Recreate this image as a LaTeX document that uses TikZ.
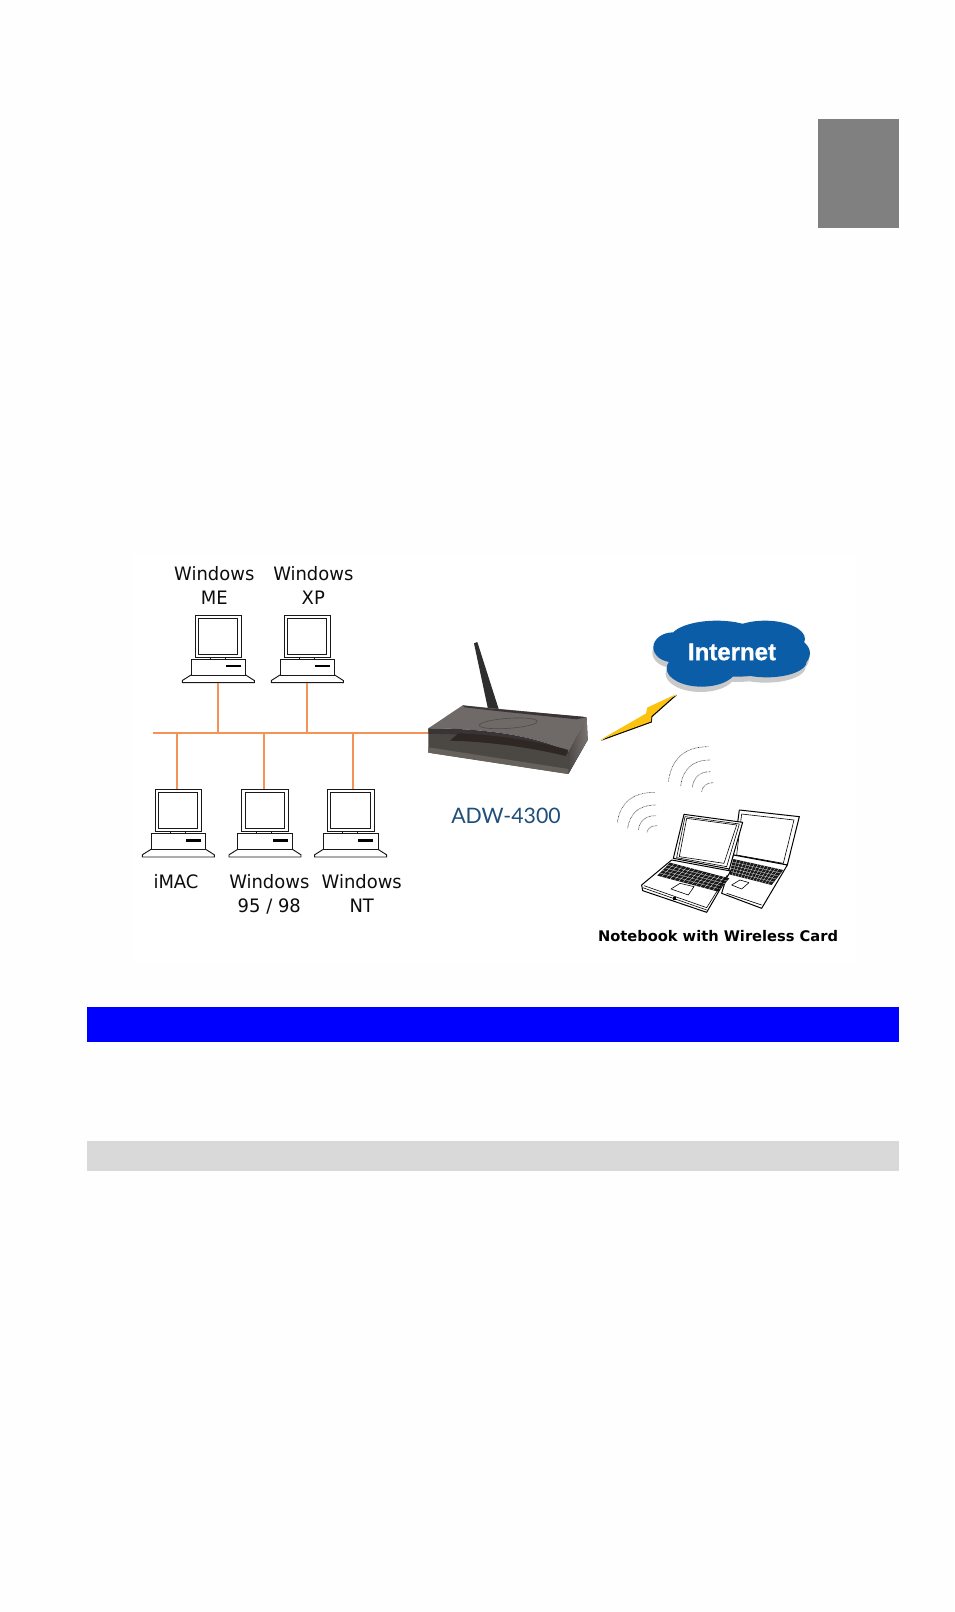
\documentclass[tikz,border=0pt]{standalone}
\usepackage{fontspec}
\setmainfont{DejaVu Sans}[FakeStretch=0.97]
\newfontfamily\boldlabel{DejaVu Sans Bold}
\newfontfamily\cloudfont{Liberation Sans Bold}[FakeBold=1.2]
\newfontfamily\modelfont{Lato}
\usetikzlibrary{calc}
\definecolor{pagebg}{HTML}{FEFEFE}
\definecolor{wire}{HTML}{F39356}
\definecolor{cloudblue}{HTML}{0A5DA6}
\definecolor{cloudshade}{HTML}{C9C9C9}
\definecolor{bolt}{HTML}{FBC20F}
\definecolor{modelblue}{HTML}{1E4E79}
\definecolor{rtop}{HTML}{6F6A67}
\definecolor{rfront}{HTML}{4B4843}
\definecolor{rband}{HTML}{66625B}
\definecolor{rdark}{HTML}{3A3436}
\definecolor{rgrill}{HTML}{2E2724}
\definecolor{rsideA}{HTML}{4D4745}
\definecolor{rsideB}{HTML}{7B7572}
\tikzset{
  compmon/.style={draw=black!90,line width=1pt,inner sep=0pt,outer sep=0pt,minimum width=46.7pt,minimum height=42pt,anchor=north west},
  compline/.style={draw=black!90,line width=0.95pt},
  wire/.style={draw=wire,line width=1.8pt},
  oslabel/.style={font=\fontsize{18.5}{24}\selectfont,align=center,text=black!95,inner sep=0pt},
  ghost/.style={inner sep=0pt,outer sep=0pt,minimum width=158pt,minimum height=40pt},
  wave/.style={draw=black!75,line width=0.6pt,dash pattern=on 0.7pt off 0.7pt},
  lap/.style={draw=black,line width=1pt,fill=white,line join=round},
  lapthin/.style={draw=black,line width=0.6pt,line join=round},
}
\newcommand{\computer}[3]{%
  \begin{scope}[shift={(#2,#3)}]
    \node[compmon] (#1) at (0,0) {};
    \draw[compline] (3.3,3) rectangle (42.7,39);
    \draw[compline] (15,42) -- (15,44) (30,42) -- (30,44);
    \draw[compline] (-4,44) rectangle (50.7,60);
    \fill[black] (31,50) rectangle (46,52.2);
    \draw[compline] (-4,60) -- (-12.7,65.5) -- (-12.7,67.7) -- (59.3,67.7) -- (59.3,65.5) -- (50.7,60);
    \coordinate (#1-foot) at (23.3,67.7);
  \end{scope}}
\newcommand{\wifi}[4]{%
  \draw[wave] (#1,#2) .. controls ({#1+0.08*(#3-#1)},{#2-0.65*(#2-#4)}) and ({#1+0.4*(#3-#1)},#4) .. (#3,#4);}
\newcommand{\keyboard}[4]{%
  \fill[black!90] (#1) -- (#2) -- (#3) -- (#4) -- cycle;
  \foreach \t in {0.2,0.4,0.6,0.8}
    \draw[white,line width=0.25pt] ($(#1)!\t!(#4)$) -- ($(#2)!\t!(#3)$);
  \foreach \t in {0.07,0.14,...,0.95}
    \draw[white,line width=0.25pt] ($(#1)!\t!(#2)$) -- ($(#4)!\t!(#3)$);}
\newcommand{\cloudshape}{%
  (310,172) ellipse (60 and 45)
  (440,147) ellipse (140 and 55)
  (585,147) ellipse (120 and 55)
  (650,190) ellipse (70 and 50)
  (590,215) ellipse (120 and 47)
  (395,235) ellipse (105 and 55)
  (500,190) ellipse (170 and 70)}
\begin{document}
\begin{tikzpicture}[x=1pt,y=-1pt]
\useasboundingbox (0,0) rectangle (954,1612);
\fill[pagebg] (0,0) rectangle (954,1612);
\fill[white] (133,555) rectangle (856,962);
% page bars
\fill[black!50] (818,119) rectangle (899,227.7);
\fill[blue] (87,1007) rectangle (899,1041.7);
\fill[black!15] (87,1141) rectangle (899,1171);
% computers
\computer{me}{195}{615}
\computer{xp}{284}{615}
\computer{imac}{155}{789.3}
\computer{wnf}{241.7}{789.3}
\computer{nt}{327.3}{789.3}
% labels
\node[oslabel] (lme) at (214.3,585.5) {Windows\\ME};
\node[oslabel] (lxp) at (313.3,585.5) {Windows\\XP};
\node[oslabel] (limac) at (176,882) {iMAC};
\node[oslabel] (lwnf) at (269.3,894) {Windows\\95 / 98};
\node[oslabel] (lnt) at (361.7,893) {Windows\\NT};
% router
\node[ghost,anchor=west] (router) at (428.3,732.7) {};
\begin{scope}[shift={(400,600)},x=0.3333pt,y=-0.3333pt]
  \fill[black!82,line join=round] (222,130) -- (232,126) -- (296,327) -- (264,327) -- cycle;
  \fill[left color=rsideA,right color=rsideB] (505,455) -- (560,352) -- (563,420) -- (505,522) -- cycle;
  \fill[rfront] (85,385) -- (85,458) -- (505,522) -- (505,455) -- cycle;
  \fill[rband] (85,442) -- (85,458) -- (505,522) -- (505,507) -- cycle;
  \fill[rtop] (85,385) -- (188,316) -- (560,352) -- (505,455) .. controls (400,405) and (250,385) .. (85,385) -- cycle;
  \fill[rdark] (188,316) -- (265,325) -- (548,350) -- (558,352) -- (530,358) -- (300,334) -- (194,322) -- cycle;
  \fill[rdark] (85,385) .. controls (250,385) and (400,405) .. (505,455) -- (505,462) .. controls (400,425) and (250,400) .. (85,402) -- cycle;
  \fill[rgrill] (150,422) -- (175,400) .. controls (300,405) and (420,425) .. (505,450) -- (497,468) .. controls (380,440) and (260,425) .. (150,422) -- cycle;
  \draw[black!70,line width=0.6pt,rotate around={4:(325,370)}] (325,370) ellipse (87 and 15);
\end{scope}
% bus
\coordinate (busL) at (152.7,732.7);
\draw[wire] (busL) -- (router.west);
\draw[wire] (me-foot) -- (me-foot |- busL);
\draw[wire] (xp-foot) -- (xp-foot |- busL);
\draw[wire] ([xshift=-1.3pt]imac.north) -- ([xshift=-1.3pt]imac.north |- busL);
\draw[wire] ([xshift=-1pt]wnf.north) -- ([xshift=-1pt]wnf.north |- busL);
\draw[wire] ([xshift=2pt]nt.north) -- ([xshift=2pt]nt.north |- busL);
\node[font=\modelfont\fontsize{21.3}{26}\selectfont,text=modelblue,inner sep=0pt,anchor=base] (model) at (506,823.3) {ADW-4300};
% cloud
\begin{scope}[shift={(570,590)},x=0.3333pt,y=-0.3333pt]
  \begin{scope}[shift={(-3,16)}]
    \fill[cloudshade] \cloudshape;
  \end{scope}
  \fill[cloudblue] \cloudshape;
\end{scope}
\node[font=\cloudfont\fontsize{24}{27}\selectfont,text=white,inner sep=0pt] (internet) at (732,652) {Internet};
% bolt
\fill[black,shift={(0.8,0.9)}] (676,694.3) -- (647.3,707.5) -- (646,713.5) -- (600,740) -- (651,721.5) -- (651.5,716) -- cycle;
\fill[bolt] (676,694.3) -- (647.3,707.5) -- (646,713.5) -- (600,740) -- (651,721.5) -- (651.5,716) -- cycle;
% wireless waves
\begin{scope}[shift={(570,715)},x=0.3333pt,y=-0.3333pt]
  \wifi{295}{200}{415}{95}
  \wifi{332}{213}{420}{135}
  \wifi{367}{217}{422}{170}
  \wifi{395}{230}{430}{203}
  \wifi{142}{322}{255}{232}
  \wifi{173}{340}{258}{270}
  \wifi{205}{345}{258}{302}
  \wifi{231}{352}{262}{332}
  % back laptop
  \draw[lap] (508,285) -- (688,305) -- (652,450) -- (490,420) -- cycle;
  \draw[lapthin] (515,297) -- (672,315) -- (640,445) -- (500,420) -- cycle;
  \draw[lap] (490,420) -- (652,450) -- (575,580) -- (455,535) -- cycle;
  \coordinate (ba) at (490,432); \coordinate (bb) at (640,465); \coordinate (bc) at (605,510); \coordinate (bd) at (478,478);
  \keyboard{ba}{bb}{bc}{bd}
  \draw[lapthin] (485,510) -- (510,495) -- (537,503) -- (515,522) -- cycle;
  \draw[lapthin] (470,535) -- (575,570);
  % front laptop
  \draw[lap] (342,298) -- (518,322) -- (478,462) -- (310,430) -- cycle;
  \draw[lapthin] (350,310) -- (500,330) -- (462,445) -- (328,425) -- cycle;
  \draw[lapthin] (345,305) -- (508,327) -- (470,455) -- (320,428) -- cycle;
  \draw[lap] (305,435) -- (482,468) -- (410,592) -- (218,527) -- (215,510) -- cycle;
  \coordinate (fa) at (300,443); \coordinate (fb) at (478,490); \coordinate (fc) at (445,530); \coordinate (fd) at (262,482);
  \keyboard{fa}{fb}{fc}{fd}
  \draw[lapthin] (303,522) -- (330,505) -- (372,515) -- (355,540) -- cycle;
  \draw[lapthin] (222,512) -- (410,578) -- (472,480);
  \draw[lapthin] (218,518) -- (410,585);
  \fill[black] (308,545) rectangle (318,554);
\end{scope}
\node[font=\boldlabel\fontsize{14.65}{18}\selectfont,text=black,inner sep=0pt,anchor=base] (nblabel) at (718,941.7) {Notebook with Wireless Card};
\end{tikzpicture}
\end{document}
